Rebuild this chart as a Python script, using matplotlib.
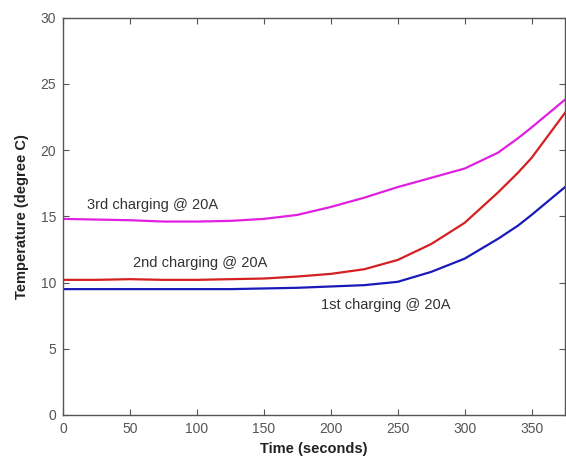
import matplotlib
matplotlib.use("Agg")
import matplotlib.pyplot as plt

time_s = [0, 25, 50, 75, 100, 125, 150, 175, 200, 225, 250, 275, 300, 325, 340, 350, 375]
temp_1st = [9.5, 9.5, 9.5, 9.5, 9.5, 9.5, 9.55, 9.6, 9.7, 9.8, 10.05, 10.8, 11.8, 13.3, 14.3, 15.1, 17.2]
temp_2nd = [10.2, 10.2, 10.25, 10.2, 10.2, 10.25, 10.3, 10.45, 10.65, 11.0, 11.7, 12.9, 14.5, 16.8, 18.3, 19.4, 22.8]
temp_3rd = [14.8, 14.75, 14.7, 14.6, 14.6, 14.65, 14.8, 15.1, 15.7, 16.4, 17.2, 17.9, 18.6, 19.8, 20.9, 21.7, 23.8]

labels = ["1st charging @ 20A", "2nd charging @ 20A", "3rd charging @ 20A"]
x_ticks = [0, 50, 100, 150, 200, 250, 300, 350]
y_ticks = [0, 5, 10, 15, 20, 25, 30]

plt.rcParams['font.family'] = ['Liberation Sans', 'DejaVu Sans']
fig = plt.figure(figsize=(5.66, 4.59), dpi=100)
ax = fig.add_axes([63/566, 1 - 415/459, (565-63)/566, (415-17.5)/459])

ax.plot(time_s, temp_1st, color='#1a1ab8', lw=1.6)
ax.plot(time_s, temp_2nd, color='#d42020', lw=1.6)
ax.plot(time_s, temp_3rd, color='#e020e0', lw=1.6)

ax.text(193, 8.3, labels[0], fontsize=10.5, color='#333333', va='center')
ax.text(52, 11.5, labels[1], fontsize=10.5, color='#333333', va='center')
ax.text(18, 15.85, labels[2], fontsize=10.5, color='#333333', va='center')

ax.set_xlim(0, 375)
ax.set_ylim(0, 30)
ax.set_xticks(x_ticks)
ax.set_yticks(y_ticks)
ax.tick_params(direction='in', length=4, labelsize=10, colors='#555555', top=True, right=True, pad=5)
for s in ax.spines.values():
    s.set_color('#555555')
    s.set_linewidth(1.0)
ax.set_xlabel('Time (seconds)', fontsize=10.5, fontweight='bold', color='#222222', labelpad=4)
ax.set_ylabel('Temperature (degree C)', fontsize=10.5, fontweight='bold', color='#222222', labelpad=8)

fig.savefig('out.png', dpi=100)
